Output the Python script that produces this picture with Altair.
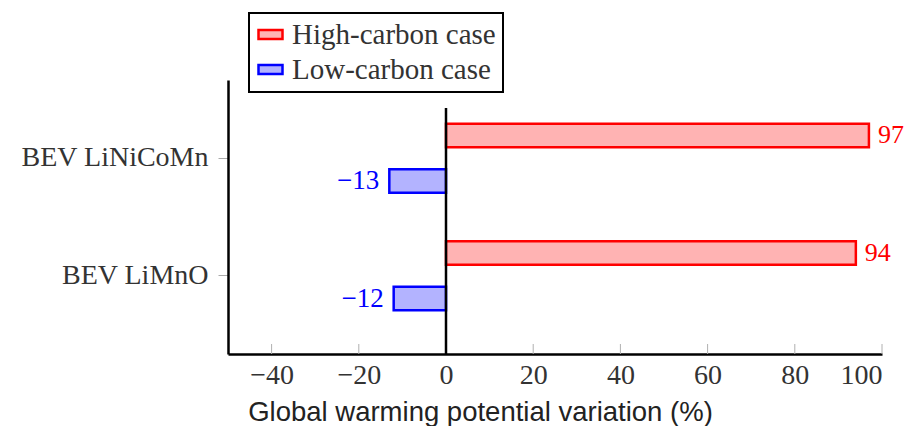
import altair as alt
import pandas as pd

categories = ["BEV LiNiCoMn", "BEV LiMnO"]
cases = ["High-carbon case", "Low-carbon case"]
high_carbon = [97, 94]
low_carbon = [-13, -12]
x_ticks = [-40, -20, 0, 20, 40, 60, 80, 100]
fill_colors = ["#FFB3B3", "#B3B3FF"]
stroke_colors = ["#FF0000", "#0000FF"]


def lab(v):
    return str(v).replace("-", "\u2212")


rows = []
for c, h, l in zip(categories, high_carbon, low_carbon):
    rows.append({"Category": c, "Case": cases[0], "Value": h, "Label": lab(h)})
    rows.append({"Category": c, "Case": cases[1], "Value": l, "Label": lab(l)})
df = pd.DataFrame(rows)

W, H = 654, 274
SERIF = "Liberation Serif"

x_scale = alt.Scale(domain=[-50, 100], nice=False, zero=False)
x_axis = alt.Axis(
    values=x_ticks, grid=False, ticks=False, domainColor="black", domainWidth=2.5,
    labelExpr="replace(format(datum.value, 'd'), '-', '\u2212')",
    labelFont=SERIF, labelFontSize=28, labelColor="#333", labelPadding=7,
    titleFont="Liberation Sans", titleFontSize=27.5, titleFontWeight="normal",
    titleColor="#222", titleX=252, titleY=66, titleAlign="center",
    titleBaseline="alphabetic",
)
y_enc = alt.Y(
    "Category:N", sort=categories, title=None,
    scale=alt.Scale(paddingInner=0, paddingOuter=0.166),
    axis=alt.Axis(domainColor="black", domainWidth=2.5, tickColor="#aaa", tickSize=10,
                  tickWidth=1, labelFont=SERIF, labelFontSize=28, labelColor="#333",
                  labelPadding=10, grid=False, labelLimit=300),
)
yoff = alt.YOffset("Case:N", sort=cases,
                   scale=alt.Scale(paddingInner=0.484, paddingOuter=0.533))

legend = alt.Legend(
    orient="none", legendX=21, legendY=-67, title=None,
    labelFont=SERIF, labelFontSize=29, labelColor="#333", labelLimit=400,
    labelExpr="datum.label + '\u2002'",
    symbolType="M-1,-0.375H1V0.375H-1Z", symbolSize=576, symbolStrokeWidth=2.5,
    strokeColor="black", fillColor="white", padding=7, rowPadding=5, labelOffset=7,
)

X = alt.X("Value:Q", scale=x_scale, axis=x_axis,
          title="Global warming potential variation (%)")

ticks = alt.Chart(pd.DataFrame({"Value": x_ticks})).mark_rule(
    color="#b0b0b0", strokeWidth=1).encode(
    x=X, y=alt.value(H - 10), y2=alt.value(H))

bars = alt.Chart(df).mark_bar(strokeWidth=2.5).encode(
    x=X, x2=alt.datum(0), y=y_enc, yOffset=yoff,
    fill=alt.Fill("Case:N", scale=alt.Scale(domain=cases, range=fill_colors), legend=legend),
    stroke=alt.Stroke("Case:N", scale=alt.Scale(domain=cases, range=stroke_colors), legend=legend),
)

zero = alt.Chart(pd.DataFrame({"Value": [0]})).mark_rule(
    color="black", strokeWidth=2.5).encode(
    x=X, y=alt.value(28), y2=alt.value(H))

txt_color = alt.Color("Case:N", scale=alt.Scale(domain=cases, range=stroke_colors), legend=None)
text_pos = alt.Chart(df).transform_filter("datum.Value > 0").mark_text(
    align="left", dx=9, baseline="middle", font=SERIF, fontSize=26).encode(
    x=X, y=y_enc, yOffset=yoff, text="Label:N", color=txt_color)
text_neg = alt.Chart(df).transform_filter("datum.Value < 0").mark_text(
    align="right", dx=-10, baseline="middle", font=SERIF, fontSize=27).encode(
    x=X, y=y_enc, yOffset=yoff, text="Label:N", color=txt_color)

chart = alt.layer(ticks, bars, zero, text_pos, text_neg).properties(
    width=W, height=H,
    padding={"left": 220, "top": 72, "right": 23, "bottom": 72},
    autosize=alt.AutoSizeParams(type="none"),
).configure_view(stroke=None).configure_legend(strokeWidth=2)

chart.save("out.html", embed_options={"renderer": "svg", "actions": False})
